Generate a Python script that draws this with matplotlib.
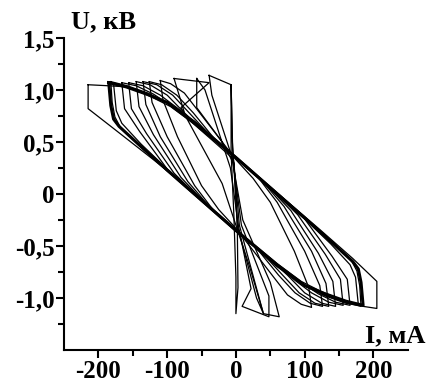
import matplotlib.pyplot as plt

# Hysteresis loops U(I): current in mA, voltage in kV.
# Each loop is a closed polygon.
loop_outer_i = [-215, -185, -160, -130, -100, -60, 0, 60, 120, 170, 205, 205, 185, 160, 130, 100, 60, 0, -64, -120, -180, -215, -215]
loop_outer_u = [1.05, 1.04, 1.03, 0.96, 0.88, 0.68, 0.35, 0.01, -0.33, -0.62, -0.84, -1.10, -1.08, -1.05, -0.98, -0.88, -0.68, -0.35, 0.03, 0.33, 0.64, 0.82, 1.05]

loop_185_i = [-185, -160, -130, -100, -60, 0, 50, 100, 142, 170, 178, 182, 185, 160, 130, 100, 60, 0, -50, -100, -142, -170, -178, -182, -185]
loop_185_u = [1.07, 1.03, 0.96, 0.88, 0.68, 0.35, 0.06, -0.23, -0.48, -0.65, -0.72, -0.85, -1.07, -1.03, -0.96, -0.88, -0.68, -0.35, -0.06, 0.23, 0.48, 0.65, 0.72, 0.85, 1.07]

loop_182_i = [-182, -158, -128, -98, -60, 0, 50, 100, 140, 168, 176, 180, 182, 158, 128, 98, 60, 0, -50, -100, -140, -168, -176, -180, -182]
loop_182_u = [1.08, 1.04, 0.97, 0.87, 0.70, 0.36, 0.07, -0.22, -0.46, -0.64, -0.74, -0.88, -1.08, -1.04, -0.97, -0.87, -0.70, -0.36, -0.07, 0.22, 0.46, 0.64, 0.74, 0.88, 1.08]

loop_178_i = [-178, -155, -125, -95, -60, 0, 50, 100, 138, 166, 174, 178, 155, 125, 95, 60, 0, -50, -100, -138, -166, -174, -178]
loop_178_u = [1.06, 1.02, 0.94, 0.84, 0.67, 0.34, 0.05, -0.24, -0.48, -0.68, -0.80, -1.06, -1.02, -0.94, -0.84, -0.67, -0.34, -0.05, 0.24, 0.48, 0.68, 0.80, 1.06]

loop_166_i = [-166, -145, -120, -90, -60, 0, 50, 100, 140, 162, 166, 145, 120, 90, 60, 0, -50, -100, -140, -162, -166]
loop_166_u = [1.07, 1.04, 0.96, 0.83, 0.68, 0.35, 0.06, -0.24, -0.60, -0.82, -1.07, -1.04, -0.96, -0.83, -0.68, -0.35, -0.06, 0.24, 0.60, 0.82, 1.07]

loop_156_i = [-156, -135, -110, -80, -60, 0, 50, 90, 130, 152, 156, 135, 110, 80, 60, 0, -50, -90, -130, -152, -156]
loop_156_u = [1.07, 1.04, 0.95, 0.80, 0.68, 0.35, 0.06, -0.20, -0.58, -0.82, -1.07, -1.04, -0.95, -0.80, -0.68, -0.35, -0.06, 0.20, 0.58, 0.82, 1.07]

loop_145_i = [-145, -125, -100, -75, -50, 0, 40, 80, 120, 141, 145, 125, 100, 75, 50, 0, -40, -80, -120, -141, -145]
loop_145_u = [1.08, 1.05, 0.95, 0.78, 0.63, 0.35, 0.12, -0.16, -0.57, -0.84, -1.08, -1.05, -0.95, -0.78, -0.63, -0.35, -0.12, 0.16, 0.57, 0.84, 1.08]

loop_135_i = [-135, -115, -92, -68, -40, 0, 35, 70, 110, 131, 135, 115, 92, 68, 40, 0, -35, -70, -110, -131, -135]
loop_135_u = [1.08, 1.05, 0.95, 0.78, 0.58, 0.35, 0.15, -0.12, -0.55, -0.86, -1.08, -1.05, -0.95, -0.78, -0.58, -0.35, -0.15, 0.12, 0.55, 0.86, 1.08]

loop_126_i = [-126, -108, -86, -62, -30, 0, 30, 60, 100, 122, 126, 108, 86, 62, 30, 0, -30, -60, -100, -122, -126]
loop_126_u = [1.08, 1.05, 0.95, 0.78, 0.52, 0.35, 0.18, -0.08, -0.55, -0.88, -1.08, -1.05, -0.95, -0.78, -0.52, -0.35, -0.18, 0.08, 0.55, 0.88, 1.08]

loop_110_i = [-110, -95, -75, -55, -20, 0, 25, 50, 85, 106, 110, 95, 75, 55, 20, 0, -25, -50, -85, -106, -110]
loop_110_u = [1.09, 1.06, 0.97, 0.80, 0.50, 0.33, 0.15, -0.08, -0.55, -0.90, -1.09, -1.06, -0.97, -0.80, -0.50, -0.33, -0.15, 0.08, 0.55, 0.90, 1.09]

# early, narrow loops around I = 0
loop_n4_i = [-90, -73, -35, -6, 10, 50, 63, 40, 20, 0, -20, -80, -39, -90]
loop_n4_u = [1.11, 0.74, 0.52, 0.35, -0.25, -0.85, -1.18, -1.15, -0.70, -0.30, 0.10, 0.83, 1.07, 1.11]

loop_n3_i = [-57, -57, -20, -4, 8, 48, 48, 9, 22, 4, -8, -45, -57]
loop_n3_u = [1.11, 0.83, 0.50, 0.30, -0.30, -0.98, -1.18, -1.08, -0.91, -0.32, 0.25, 1.00, 1.11]

loop_n2_i = [-39, -7, -5, -2, 2, 30, 40, 5, -3, -35, -39]
loop_n2_u = [1.14, 1.05, 0.45, 0.20, -0.30, -1.00, -1.15, -0.30, 0.30, 0.95, 1.14]

loop_n1_i = [-7, -7, -3, 0, 0, 3, 2, -5, -7]
loop_n1_u = [1.05, 0.40, -0.20, -0.80, -1.15, -0.90, -0.30, 0.50, 1.05]

loops = [
    (loop_outer_i, loop_outer_u), (loop_185_i, loop_185_u), (loop_182_i, loop_182_u),
    (loop_178_i, loop_178_u), (loop_166_i, loop_166_u), (loop_156_i, loop_156_u),
    (loop_145_i, loop_145_u), (loop_135_i, loop_135_u), (loop_126_i, loop_126_u),
    (loop_110_i, loop_110_u), (loop_n4_i, loop_n4_u), (loop_n3_i, loop_n3_u),
    (loop_n2_i, loop_n2_u), (loop_n1_i, loop_n1_u),
]

x_ticks = [-200, -100, 0, 100, 200]
x_labels = ['-200', '-100', '0', '100', '200']
y_ticks = [-1.0, -0.5, 0.0, 0.5, 1.0, 1.5]
y_labels = ['-1,0', '-0,5', '0', '0,5', '1,0', '1,5']

plt.rcParams['font.family'] = 'Liberation Serif'
plt.rcParams['font.weight'] = 'bold'

fig = plt.figure(figsize=(4.27, 3.83), dpi=100)
ax = fig.add_axes([0.150, 0.086, 0.805, 0.815])

for li, lu in loops:
    ax.plot(li, lu, color='black', linewidth=0.9)
# main loop drawn heavier
ax.plot(loop_185_i, loop_185_u, color='black', linewidth=2.2)

ax.set_xlim(-250, 250)
ax.set_ylim(-1.5, 1.5)
ax.spines['top'].set_visible(False)
ax.spines['right'].set_visible(False)
ax.spines['left'].set_linewidth(1.5)
ax.spines['bottom'].set_linewidth(1.5)

ax.set_xticks(x_ticks)
ax.set_xticklabels(x_labels)
ax.set_xticks([-150, -50, 50, 150], minor=True)
ax.set_yticks(y_ticks)
ax.set_yticklabels(y_labels)
ax.set_yticks([-1.25, -0.75, -0.25, 0.25, 0.75, 1.25], minor=True)
ax.tick_params(which='major', length=6, width=1.5, labelsize=18, pad=1)
ax.tick_params(which='minor', length=4, width=1.5)

fig.text(0.167, 0.925, 'U, кВ', fontsize=19, fontweight='bold', ha='left', va='baseline')
fig.text(0.997, 0.107, 'I, мА', fontsize=19, fontweight='bold', ha='right', va='baseline')

fig.savefig('out.png', dpi=100)
